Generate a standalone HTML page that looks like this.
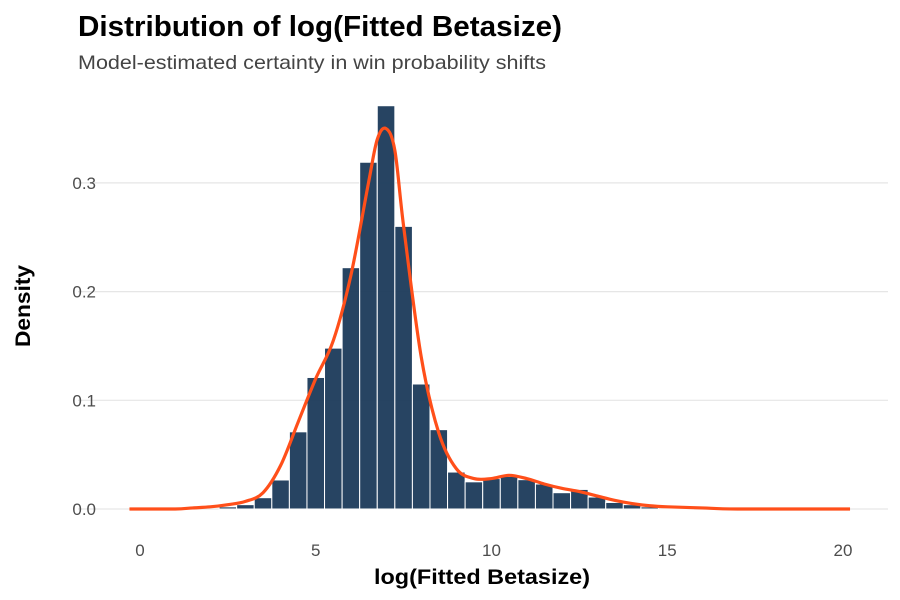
<!DOCTYPE html>
<html><head><meta charset="utf-8"><style>
body{margin:0;background:#fff;font-family:"Liberation Sans",sans-serif}
svg{display:block}
</style></head><body>
<svg id="chart" width="900" height="600" viewBox="0 0 900 600" xmlns="http://www.w3.org/2000/svg">
<text x="78" y="36" font-size="29" font-weight="bold" fill="#000" textLength="484" lengthAdjust="spacingAndGlyphs">Distribution of log(Fitted Betasize)</text>
<text x="78" y="69" font-size="19.5" fill="#444" textLength="468" lengthAdjust="spacingAndGlyphs">Model-estimated certainty in win probability shifts</text>
<g id="grid"></g>
<g id="bars"></g>
<path id="curve" fill="none" stroke="#ff4f1a" stroke-width="3.2" stroke-linejoin="round"/>
<g id="yticks"></g>
<g id="xticks"></g>
<text x="482" y="584" font-size="21" font-weight="bold" text-anchor="middle" textLength="216" lengthAdjust="spacingAndGlyphs">log(Fitted Betasize)</text>
<text transform="translate(30,306) rotate(-90)" font-size="21" font-weight="bold" text-anchor="middle" textLength="82" lengthAdjust="spacingAndGlyphs">Density</text>
</svg>
<script>
const binStarts=[2.25,2.75,3.25,3.75,4.25,4.75,5.25,5.75,6.25,6.75,7.25,7.75,8.25,8.75,9.25,9.75,10.25,10.75,11.25,11.75,12.25,12.75,13.25,13.75,14.25,14.75,15.25];
const binDensity=[0.002,0.004,0.0104,0.0267,0.071,0.121,0.148,0.222,0.319,0.371,0.260,0.115,0.073,0.034,0.025,0.028,0.030,0.027,0.023,0.015,0.018,0.011,0.006,0.004,0.002,0.001,0.001];
const binWidth=0.5;
const curveX=[-0.3,0,1,1.5,2,2.5,3,3.5,4,4.5,5,5.5,6,6.5,6.75,7,7.25,7.5,8,8.5,9,9.5,10,10.5,11,11.5,12,12.5,13,13.5,14,14.5,15,16,17,20.2];
const curveY=[0,0,0,0.001,0.002,0.004,0.007,0.015,0.04,0.08,0.12,0.155,0.215,0.3,0.34,0.35,0.33,0.26,0.14,0.07,0.037,0.028,0.028,0.031,0.028,0.023,0.019,0.016,0.012,0.008,0.005,0.003,0.002,0.001,0,0];
const xTicks=[0,5,10,15,20];
const yTicks=[0,0.1,0.2,0.3];
const yTickLabels=["0.0","0.1","0.2","0.3"];
const NS="http://www.w3.org/2000/svg";
const xs=v=>140+v*35.15, ys=v=>509-v*1087;
function mk(tag,attrs,parent){const e=document.createElementNS(NS,tag);for(const k in attrs)e.setAttribute(k,attrs[k]);parent.appendChild(e);return e;}
const grid=document.getElementById('grid');
yTicks.forEach((t,i)=>{
 const l=mk('line',{x1:78,x2:888,y1:ys(t),y2:ys(t),stroke:'#e6e6e6','stroke-width':1.2},grid);
 
 
 const tx=mk('text',{x:96,y:ys(t)+6,'font-size':17,fill:'#4d4d4d','text-anchor':'end'},document.getElementById('yticks'));
 tx.textContent=yTickLabels[i];
 
 
});
xTicks.forEach(t=>{
 const tx=mk('text',{x:xs(t),y:556,'font-size':17,fill:'#4d4d4d','text-anchor':'middle'},document.getElementById('xticks'));
 tx.textContent=t;
 
 
});
const bars=document.getElementById('bars');
binStarts.forEach((s,i)=>{
 const x0=xs(s),x1=xs(s+binWidth),y=ys(binDensity[i]);
 const r=mk('rect',{x:x0,y:y,width:x1-x0,height:509-y,fill:'#1b3a5a','fill-opacity':0.95,stroke:'#fff','stroke-width':1},bars);
 
 
});
const P=curveX.map((x,i)=>[xs(x),ys(curveY[i])]);
let d='M'+P[0][0]+','+P[0][1];
for(let i=0;i<P.length-1;i++){
 const p0=P[Math.max(0,i-1)],p1=P[i],p2=P[i+1],p3=P[Math.min(P.length-1,i+2)];
 const c1=[p1[0]+(p2[0]-p0[0])/6,p1[1]+(p2[1]-p0[1])/6];
 const c2=[p2[0]-(p3[0]-p1[0])/6,p2[1]-(p3[1]-p1[1])/6];
 d+=` C${c1[0]},${Math.min(509,c1[1])} ${c2[0]},${Math.min(509,c2[1])} ${p2[0]},${p2[1]}`;
}
document.getElementById('curve').setAttribute('d',d);
</script>
</body></html>
